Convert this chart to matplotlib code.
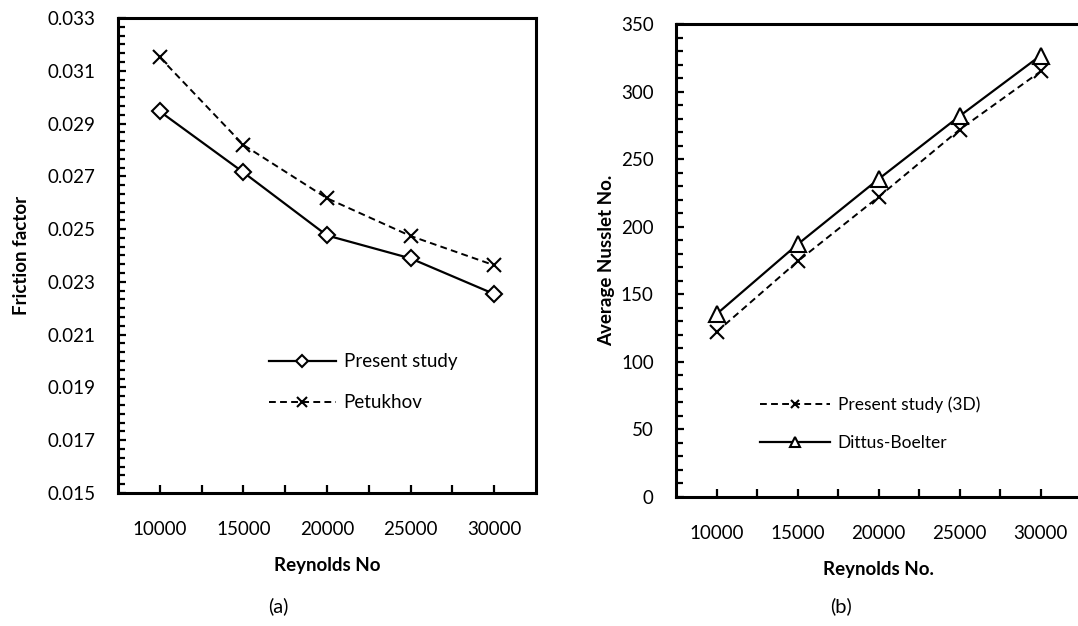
import matplotlib
matplotlib.use("Agg")
import matplotlib.pyplot as plt
from matplotlib.ticker import AutoMinorLocator, FixedLocator

plt.rcParams['font.family'] = ['Lato', 'DejaVu Sans']

# ---- data ----
reynolds = [10000, 15000, 20000, 25000, 30000]

friction_present = [0.02946, 0.02715, 0.02476, 0.02389, 0.02254]
friction_petukhov = [0.03151, 0.02819, 0.02617, 0.02474, 0.02363]

nusselt_present = [122.1, 174.3, 222.0, 271.8, 314.9]
nusselt_dittus = [135.3, 186.9, 235.2, 281.8, 326.6]

x_tick_values = [10000, 15000, 20000, 25000, 30000]
x_tick_labels = ['10000', '15000', '20000', '25000', '30000']
fric_ticks = [0.015, 0.017, 0.019, 0.021, 0.023, 0.025, 0.027, 0.029, 0.031, 0.033]
nu_ticks = [0, 50, 100, 150, 200, 250, 300, 350]

W, H = 1078, 626
fig = plt.figure(figsize=(W / 100, H / 100), dpi=100)

def fpos(l, t, r, b):
    return [l / W, 1 - b / H, (r - l) / W, (b - t) / H]

ax1 = fig.add_axes(fpos(118, 18, 536, 493))
ax2 = fig.add_axes(fpos(676, 24, 1081, 497))

dash = (0, (3.5, 2.2))
fs = 13.5

# ---- (a) friction factor ----
ax1.plot(reynolds, friction_present, color='black', lw=1.6, marker='D', ms=8,
         mfc='white', mec='black', mew=1.5, label='Present study')
ax1.plot(reynolds, friction_petukhov, color='black', lw=1.4, ls=dash, marker='x', ms=10,
         mew=1.5, label='Petukhov')
ax1.set_xlim(7500, 32500)
ax1.set_ylim(0.015, 0.033)
ax1.set_yticks(fric_ticks)
ax1.set_yticklabels([f'{v:.3f}' for v in fric_ticks])
ax1.yaxis.set_minor_locator(AutoMinorLocator(6))
ax1.set_ylabel('Friction factor', fontsize=fs, fontweight='bold')
ax1.yaxis.set_label_coords(-0.21, 0.5)
ax1.set_xlabel('Reynolds No', fontsize=fs, fontweight='bold')
ax1.legend(loc='upper left', bbox_to_anchor=(0.32, 0.33), frameon=False,
           fontsize=fs, handlelength=3.6, handletextpad=0.4, labelspacing=1.3,
           markerscale=0.75)

# ---- (b) Nusselt ----
ax2.plot(reynolds, nusselt_present, color='black', lw=1.4, ls=dash, marker='x', ms=10,
         mew=1.5, label='Present study (3D)')
ax2.plot(reynolds, nusselt_dittus, color='black', lw=1.6, marker='^', ms=11,
         mfc='white', mec='black', mew=1.5, label='Dittus-Boelter')
ax2.set_xlim(7500, 32500)
ax2.set_ylim(0, 350)
ax2.set_yticks(nu_ticks)
ax2.yaxis.set_minor_locator(AutoMinorLocator(5))
ax2.set_ylabel('Average Nusslet No.', fontsize=fs, fontweight='bold')
ax2.yaxis.set_label_coords(-0.15, 0.5)
ax2.set_xlabel('Reynolds No.', fontsize=fs, fontweight='bold')
ax2.legend(loc='upper left', bbox_to_anchor=(0.17, 0.245), frameon=False,
           fontsize=fs - 1, handlelength=4.0, handletextpad=0.45, labelspacing=1.25,
           markerscale=0.6)

for ax in (ax1, ax2):
    ax.set_xticks(x_tick_values)
    ax.set_xticklabels(x_tick_labels)
    ax.xaxis.set_minor_locator(FixedLocator([12500, 17500, 22500, 27500]))
    for s in ax.spines.values():
        s.set_linewidth(2.2)
    ax.tick_params(axis='both', which='both', direction='in', width=1.6, length=6,
                   labelsize=fs, colors='black')
    ax.tick_params(axis='x', which='minor', length=6)
    ax.tick_params(axis='y', which='minor', length=5)
    ax.tick_params(axis='x', which='major', pad=20)
    ax.tick_params(axis='y', which='major', pad=16)
    ax.xaxis.labelpad = 14

fig.text(278 / W, 1 - 606 / H, '(a)', ha='center', va='center', fontsize=fs + 1)
fig.text(841 / W, 1 - 606 / H, '(b)', ha='center', va='center', fontsize=fs + 1)

fig.savefig('out.png', dpi=100)
